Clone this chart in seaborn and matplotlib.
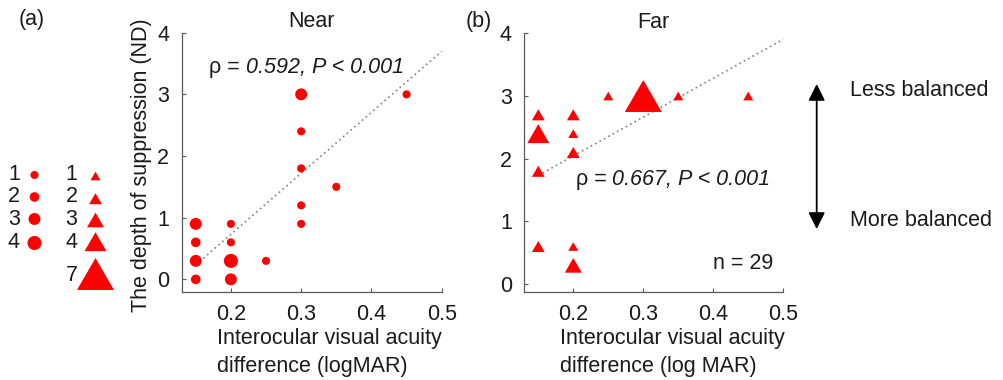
import numpy as np
import pandas as pd
import matplotlib
matplotlib.use("Agg")
import matplotlib.pyplot as plt
import seaborn as sns

# Interocular acuity difference (logMAR), depth of suppression (ND), subjects per point
near_x = [0.15, 0.15, 0.15, 0.15, 0.2, 0.2, 0.2, 0.2, 0.25, 0.3, 0.3, 0.3, 0.3, 0.3, 0.35, 0.45]
near_y = [0.9, 0.6, 0.3, 0.0, 0.9, 0.6, 0.3, 0.0, 0.3, 3.0, 2.4, 1.8, 1.2, 0.9, 1.5, 3.0]
near_n = [3, 2, 3, 2, 1, 1, 4, 3, 1, 3, 1, 1, 1, 1, 1, 1]

far_x = [0.15, 0.15, 0.15, 0.15, 0.2, 0.2, 0.2, 0.2, 0.2, 0.25, 0.3, 0.35, 0.45]
far_y = [2.7, 2.4, 1.8, 0.6, 2.7, 2.4, 2.1, 0.6, 0.3, 3.0, 3.0, 3.0, 3.0]
far_n = [2, 4, 2, 2, 2, 1, 2, 1, 3, 1, 7, 1, 1]

near_stats = "0.592, P < 0.001"
far_stats = "0.667, P < 0.001"
n_total = 29

legend_circles = [1, 2, 3, 4]
legend_triangles = [1, 2, 3, 4, 7]

x_ticks = [0.2, 0.3, 0.4, 0.5]
x_ticklabels = ["0.2", "0.3", "0.4", "0.5"]
y_ticks = [0, 1, 2, 3, 4]

RED = "#ff0000"
TXT = "#1a1a1a"
FS = 15.5
CIRCLE_SIZES = {1: 34, 2: 48, 3: 74, 4: 102}
TRI_SIZES = {1: 52, 2: 85, 3: 150, 4: 250, 7: 710}
TRIANGLE = [(-1.16, -1), (1.16, -1), (0, 1)]  # a bit wider than tall, like the original

W, H = 1004, 380


def px_box(left, top, right, bottom):
    """Pixel box -> figure fraction [l, b, w, h]."""
    return [left / W, 1 - bottom / H, (right - left) / W, (bottom - top) / H]


def fig_text(fig, x, y, s, **kw):
    """Text at pixel position (origin top left)."""
    kw.setdefault("fontsize", FS)
    kw.setdefault("color", TXT)
    return fig.text(x / W, 1 - y / H, s, **kw)


def draw_panel(ax, x, y, n, marker, sizes, ylim, title, stats, stats_xy):
    df = pd.DataFrame({"x": x, "y": y, "n": n})
    sns.scatterplot(data=df, x="x", y="y", size="n", sizes=sizes, marker=marker,
                    color=RED, edgecolor="none", linewidth=0, legend=False,
                    ax=ax, zorder=3, clip_on=False)

    # least squares line using every subject
    xs = np.repeat(df["x"].values, df["n"].values)
    ys = np.repeat(df["y"].values, df["n"].values)
    slope, intercept = np.polyfit(xs, ys, 1)
    fx = np.array([xs.min(), 0.5])
    ax.plot(fx, intercept + slope * fx, ls=(0, (1, 2)), lw=1.2, color="0.5",
            zorder=2, clip_on=False)

    ax.set_xlim(0.13, 0.5)
    ax.set_ylim(*ylim)
    ax.set_xticks(x_ticks)
    ax.set_xticklabels(x_ticklabels)
    ax.set_yticks(y_ticks)
    ax.set_xlabel("")
    ax.set_ylabel("")
    sns.despine(ax=ax)
    for sp in ["left", "bottom"]:
        ax.spines[sp].set_color("0.35")
        ax.spines[sp].set_linewidth(0.9)
    ax.tick_params(direction="in", length=3, width=0.8, color="0.35",
                   labelsize=FS, labelcolor=TXT)
    ax.tick_params(axis="x", pad=8.5)
    ax.tick_params(axis="y", pad=9)
    ax.set_title(title, fontsize=FS, color=TXT, pad=4)

    sx, sy = stats_xy
    ax.text(sx, sy, "\u03c1 = ", ha="right", va="baseline", fontsize=FS, color=TXT)
    ax.text(sx, sy, stats, ha="left", va="baseline", fontsize=FS, color=TXT,
            style="italic")


def main():
    sns.set_style("ticks")
    plt.rcParams["font.family"] = ["Liberation Sans", "DejaVu Sans"]

    fig = plt.figure(figsize=(W / 100, H / 100), dpi=100)

    # overlay in pixel units for the size key and the arrow
    lay = fig.add_axes([0, 0, 1, 1])
    lay.set_xlim(0, W)
    lay.set_ylim(H, 0)
    lay.axis("off")

    ax_a = fig.add_axes(px_box(181.7, 32.7, 441.7, 291.7))
    ax_b = fig.add_axes(px_box(524.3, 33.3, 783.3, 291.7))

    draw_panel(ax_a, near_x, near_y, near_n, "o", CIRCLE_SIZES, (-0.2, 4.0),
               "Near", near_stats, (0.221, 3.35))
    draw_panel(ax_b, far_x, far_y, far_n, TRIANGLE, TRI_SIZES, (-0.12, 4.0),
               "Far", far_stats, (0.256, 1.58))

    ax_b.text(0.485, 0.33, f"n = {n_total}", ha="right", va="center",
              fontsize=FS, color=TXT)

    # axis labels
    fig_text(fig, 142, 165, "The depth of suppression (ND)", rotation=90,
             ha="center", va="center")
    fig_text(fig, 216.7, 328, "Interocular visual acuity\ndifference (logMAR)",
             ha="left", va="top", multialignment="left", linespacing=1.45)
    fig_text(fig, 560, 328, "Interocular visual acuity\ndifference (log MAR)",
             ha="left", va="top", multialignment="left", linespacing=1.45)

    fig_text(fig, 31.5, 20, "(a)", ha="center", va="center")
    fig_text(fig, 478.5, 21, "(b)", ha="center", va="center")

    # size key
    circle_rows = [175, 197, 219, 243]
    tri_rows = [176, 198.7, 220, 241.7, 274]
    num_rows = [175, 197, 219.5, 243, 275.7]
    sns.scatterplot(x=[34.5] * len(legend_circles), y=circle_rows, size=legend_circles,
                    sizes=CIRCLE_SIZES, marker="o", color=RED, edgecolor="none",
                    linewidth=0, legend=False, ax=lay)
    sns.scatterplot(x=[95.5] * len(legend_triangles), y=tri_rows, size=legend_triangles,
                    sizes=TRI_SIZES, marker=TRIANGLE, color=RED, edgecolor="none",
                    linewidth=0, legend=False, ax=lay)
    for n, yy in zip(legend_circles, num_rows):
        lay.text(14, yy, str(n), ha="center", va="center", fontsize=FS, color=TXT)
    for n, yy in zip(legend_triangles, num_rows):
        lay.text(71.5, yy, str(n), ha="center", va="center", fontsize=FS, color=TXT)

    # balance arrow
    lay.annotate("", xy=(816.7, 84), xytext=(816.7, 229),
                 arrowprops=dict(arrowstyle="<|-|>,head_length=0.5,head_width=0.25",
                                 color="black", lw=1.3, mutation_scale=20,
                                 shrinkA=0, shrinkB=0))
    lay.text(850, 90, "Less balanced", ha="left", va="center", fontsize=FS, color=TXT)
    lay.text(850, 220, "More balanced", ha="left", va="center", fontsize=FS, color=TXT)

    fig.savefig("out.png", dpi=100)
    plt.close(fig)


if __name__ == "__main__":
    main()
